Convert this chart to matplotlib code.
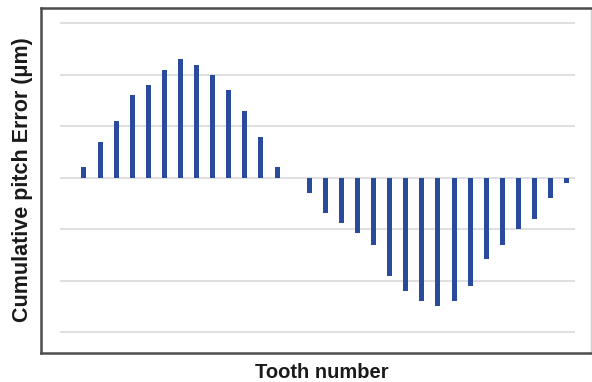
import numpy as np
import matplotlib
matplotlib.use("Agg")
import matplotlib.pyplot as plt

# tooth index and cumulative pitch error (grid units)
teeth = np.arange(31)
error = [0.2, 0.7, 1.1, 1.6, 1.8, 2.09, 2.3, 2.2, 2.0, 1.7, 1.3, 0.8, 0.2,
         0.0,
         -0.29, -0.69, -0.89, -1.08, -1.3, -1.92, -2.2, -2.4, -2.5, -2.4,
         -2.1, -1.59, -1.3, -1.0, -0.8, -0.39, -0.1]
grid_levels = [-3, -2, -1, 0, 1, 2, 3]

plt.rcParams['font.family'] = ['Liberation Sans', 'DejaVu Sans']

fig = plt.figure(figsize=(5.92, 3.82), dpi=100)
ax = fig.add_axes([0.0693, 0.0772, 0.9287, 0.9018])

# gridlines only over the data region
ax.hlines(grid_levels, -1.5, 30.5, colors='#dcdcdc', linewidth=1.3, zorder=1)

ax.bar(teeth, error, width=0.31, color='#2a4a9e', zorder=2)

ax.set_xlim(-2.67, 31.5)
ax.set_ylim(-3.4, 3.3)
ax.set_xticks([])
ax.set_yticks([])

for side in ['left', 'top', 'bottom']:
    ax.spines[side].set_color('#4d4d4d')
    ax.spines[side].set_linewidth(1.8)
ax.spines['right'].set_color('#d0d0d0')
ax.spines['right'].set_linewidth(1.0)

fig.text(0.543, 0.0105, 'Tooth number', ha='center', va='baseline',
         fontsize=14.5, fontweight='bold', color='#1a1a1a')
fig.text(0.038, 0.529, 'Cumulative pitch Error (μm)', ha='center', va='center',
         rotation=90, fontsize=15.5, fontweight='bold', color='#1a1a1a')

plt.savefig('out.png', dpi=100)
